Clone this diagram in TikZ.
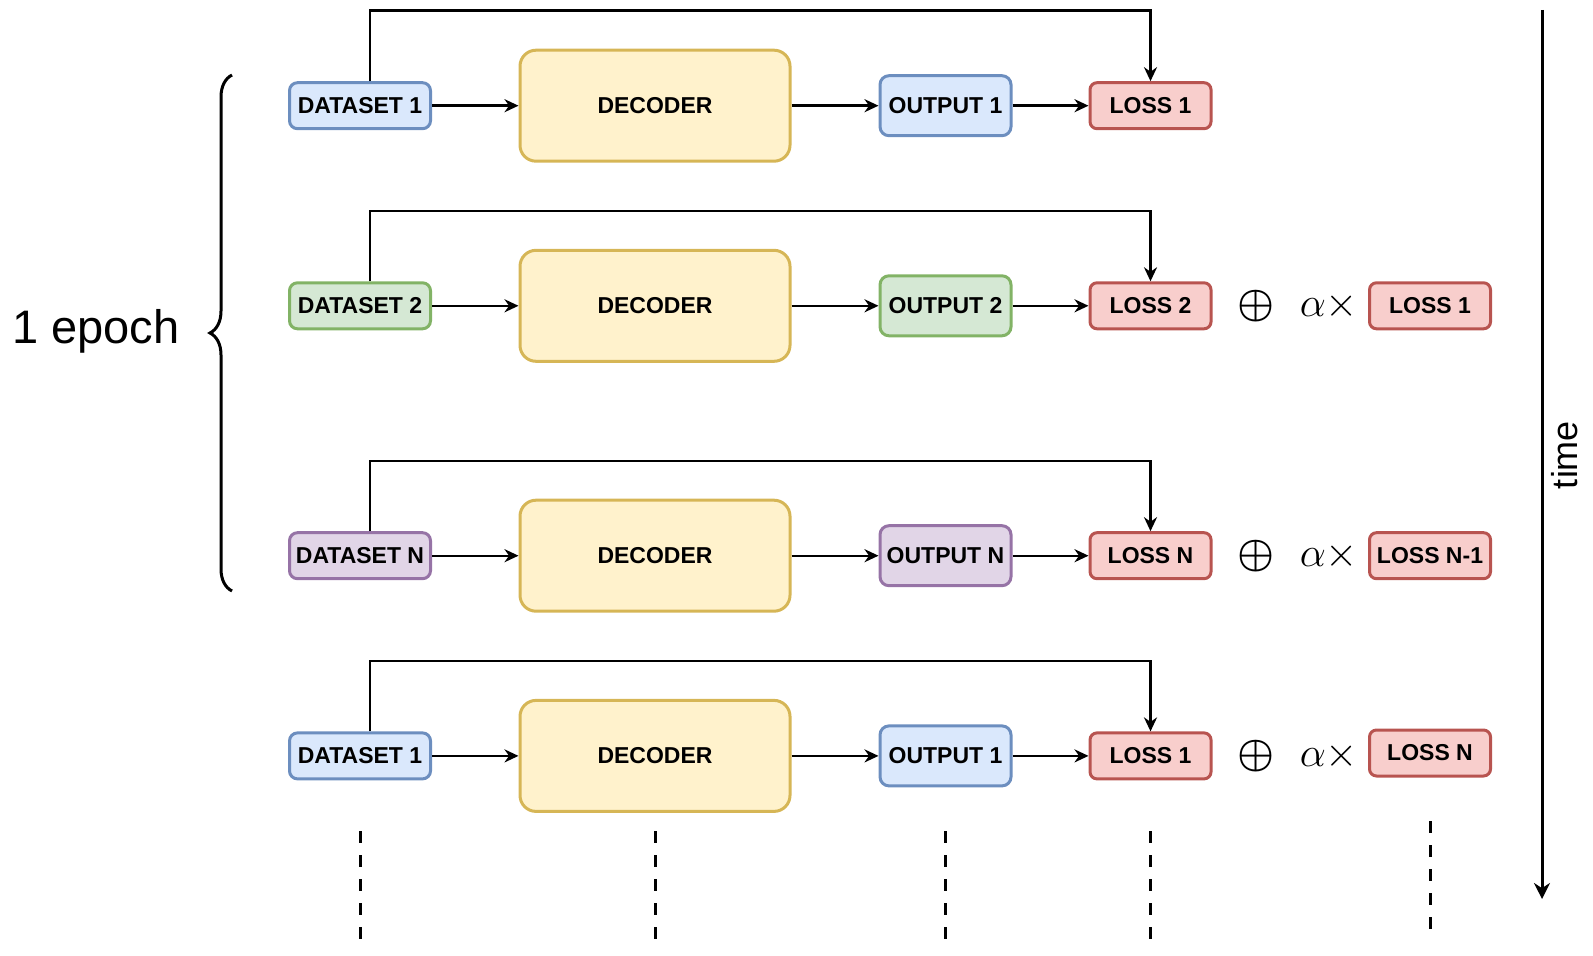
\documentclass[tikz,border=0pt]{standalone}
\usepackage{fontspec}
\setmainfont{Liberation Sans}
\usetikzlibrary{arrows.meta,decorations.pathreplacing}

\definecolor{blueFill}{HTML}{DAE8FC}
\definecolor{blueLine}{HTML}{6C8EBF}
\definecolor{greenFill}{HTML}{D5E8D4}
\definecolor{greenLine}{HTML}{82B366}
\definecolor{purpleFill}{HTML}{E1D5E7}
\definecolor{purpleLine}{HTML}{9673A6}
\definecolor{decFill}{HTML}{FFF2CC}
\definecolor{decLine}{HTML}{D6B656}
\definecolor{lossFill}{HTML}{F8CECC}
\definecolor{lossLine}{HTML}{B85450}

\begin{document}
\begin{tikzpicture}[x=0.5pt,y=-0.5pt,
  box/.style={draw, line width=1.5pt, inner sep=0pt,
    font=\fontsize{11.5}{13}\selectfont\bfseries},
  databox/.style={box, rounded corners=4pt, minimum width=70.5pt, minimum height=23pt},
  decbox/.style={box, draw=decLine, fill=decFill, rounded corners=8pt,
    minimum width=135pt, minimum height=55.5pt},
  outbox/.style={box, rounded corners=4.5pt, minimum width=65.5pt, minimum height=30pt},
  lossbox/.style={box, draw=lossLine, fill=lossFill, rounded corners=3.5pt,
    minimum width=60.5pt, minimum height=23pt},
  setone/.style={draw=blueLine, fill=blueFill},
  settwo/.style={draw=greenLine, fill=greenFill},
  setn/.style={draw=purpleLine, fill=purpleFill},
  link/.style={-{Stealth[length=7pt,width=6.5pt]}, line width=1.2pt},
  vdots/.style={line width=1.5pt, dash pattern=on 6pt off 6pt}]

  \useasboundingbox (0,0) rectangle (1593,956);

  % one pass: id, y, dataset, colour, output, loss
  \newcommand{\stage}[6]{
    \node[databox,#4] (d#1) at (360,#2) {#3};
    \node[decbox] (dec#1) at (655,#2) {DECODER};
    \node[outbox,#4] (o#1) at (945.5,#2) {#5};
    \node[lossbox] (l#1) at (1150.5,#2) {#6};
    \coordinate (t#1) at (370,{#2-95});
    \draw[link] (d#1) -- (dec#1);
    \draw[link] (dec#1) -- (o#1);
    \draw[link] (o#1) -- (l#1);
    \draw[link] (d#1.north -| t#1) -- (t#1) -| (l#1.north);
  };

  % previous loss added on the right: id, y
  \newcommand{\addloss}[2]{
    \node[font=\fontsize{22}{24}\selectfont\boldmath] (p#1) at (1256,#2) {$\oplus$};
    \node[font=\fontsize{20}{22}\selectfont] (a#1) at (1329,#2) {$\alpha\times$};
  };

  \stage{1}{105.7}{DATASET 1}{setone}{OUTPUT 1}{LOSS 1};
  \stage{2}{305.8}{DATASET 2}{settwo}{OUTPUT 2}{LOSS 2};
  \addloss{2}{305.8};
  \node[lossbox] (r2) at (1430,305.8) {LOSS 1};
  \stage{3}{555.7}{DATASET N}{setn}{OUTPUT N}{LOSS N};
  \addloss{3}{555.7};
  \node[lossbox] (r3) at (1430,555.7) {LOSS N-1};
  \stage{4}{755.9}{DATASET 1}{setone}{OUTPUT 1}{LOSS 1};
  \addloss{4}{755.9};
  \node[lossbox] (r4) at (1430,753) {LOSS N};

  % and so on
  \foreach \x in {360,655,945.5,1150.5}
    \draw[vdots] (\x,831) -- (\x,940);
  \draw[vdots] (1430,821) -- (1430,930);

  % epoch brace
  \draw[decorate, decoration={brace, amplitude=11pt}, line width=1.5pt]
    (232,591) -- (232,75);
  \node[font=\fontsize{23.5}{26}\selectfont] (epoch) at (96,331) {1 epoch};

  % time axis
  \coordinate (tstart) at (1542,10);
  \coordinate (tend) at (1542,899);
  \draw[-{Stealth[length=8pt,width=8pt]}, line width=1.5pt] (tstart) -- (tend);
  \node[rotate=90, font=\fontsize{18}{20}\selectfont] (time) at (1565,455) {time};

\end{tikzpicture}
\end{document}
